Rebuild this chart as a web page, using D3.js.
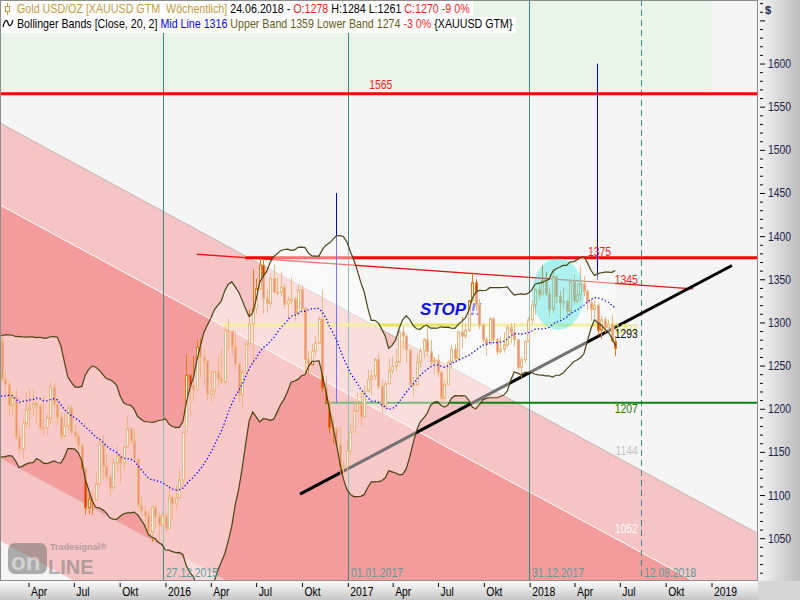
<!DOCTYPE html>
<html><head><meta charset="utf-8">
<script src="https://cdn.jsdelivr.net/npm/d3@7"></script>
<style>
body{margin:0;background:#fff;}
svg{display:block;}
text{font-family:"Liberation Sans Narrow","Arial Narrow","Liberation Sans",Arial,sans-serif;}
</style>
</head><body>
<svg id="c" width="800" height="600"></svg>
<script>
// ---------------- DATA ----------------
const firstWeek = "2014-09-05"; // weekly bars (Friday close)
const opens = [
1287,1268,1231,1216, 1218,1192,1222,1238,1231, 1171,1177,1186,1201, 1167,1191,1222,1195,
1195,1186,1216,1277,1293, 1279,1234,1228,1204, 1213,1167,1153,1183, 1199,1201,1206,1203, 1178,1178,1189,1225,1205, 1190,1168,1180,1201, 1173,1168,1157,1131,1085, 1095,1094,1113,1159, 1134,1121,1108,1137, 1145,1137,1156,1177,1163, 1142,1088,1081,1076, 1057,1086,1075,1065,
1076,1061,1097,1090,1097, 1118,1173,1239,1227, 1222,1271,1259,1255, 1217,1221,1243,1235,1231, 1291,1290,1272,1252, 1216,1243,1275,1298, 1316,1339,1366,1327,1322, 1351,1335,1335,1341, 1321,1326,1327,1310,1338, 1316,1257,1251,1267, 1276,1304,1224,1208, 1178,1177,1159,1134,1133,
1151,1173,1197,1205, 1191,1220,1234,1238, 1257,1226,1203,1229,1244, 1249,1254,1289,1284, 1268,1228,1228,1254, 1267,1280,1266,1254,1256, 1242,1212,1228,1254, 1269,1258,1289,1284, 1291,1325,1346,1320,1297, 1280,1275,1304,1280, 1266,1269,1274,1294, 1288,1280,1248,1257,1278,
1303,1320,1338,1332, 1348,1333,1315,1353, 1330,1323,1324,1313,1347, 1325,1332,1345,1336, 1323,1315,1320,1291, 1303,1294,1298,1278];
const highs = [
1293,1271,1239,1226, 1221,1232,1250,1255,1235, 1180,1192,1208,1207, 1221,1239,1225,1205,
1210,1224,1282,1307,1295, 1284,1245,1233,1219, 1224,1177,1188,1219, 1224,1224,1209,1205, 1215,1194,1232,1229,1214, 1196,1195,1205,1204, 1181,1175,1160,1132,1105, 1104,1126,1168,1170, 1147,1125,1143,1157, 1148,1157,1191,1178,1177, 1143,1097,1088,1082, 1088,1088,1080,1081,
1080,1112,1100,1112,1129, 1174,1263,1240,1261, 1280,1282,1268,1257, 1244,1245,1262,1271,1296, 1304,1290,1290,1253, 1245,1277,1315,1362, 1351,1375,1372,1338,1357, 1367,1352,1358,1345, 1330,1352,1329,1344,1343, 1318,1267,1275,1284, 1307,1338,1238,1214, 1191,1180,1180,1140,1163,
1182,1207,1219,1220, 1226,1245,1245,1259, 1264,1234,1233,1259,1261, 1270,1291,1295,1287, 1268,1237,1263,1271, 1282,1296,1280,1260,1263, 1244,1233,1256,1274, 1275,1290,1306,1299, 1326,1357,1350,1327,1299, 1283,1306,1306,1282, 1284,1289,1297,1299, 1299,1281,1260,1279,1306,
1326,1340,1345,1366, 1358,1341,1362,1354, 1337,1340,1326,1350,1355, 1345,1365,1354,1338, 1327,1326,1322,1308, 1306,1303,1309,1284];
const lows = [
1262,1226,1208,1207, 1190,1190,1220,1225,1161, 1131,1147,1180,1165, 1142,1190,1186,1172,
1167,1183,1214,1276,1250, 1232,1216,1191,1193, 1163,1147,1142,1178, 1178,1192,1183,1175, 1169,1170,1182,1201,1181, 1162,1166,1175,1169, 1162,1149,1130,1077,1078, 1077,1094,1110,1118, 1116,1098,1104,1128, 1114,1129,1155,1159,1140, 1084,1077,1062,1052, 1046,1061,1046,1064,
1057,1060,1071,1083,1096, 1111,1172,1191,1208, 1220,1236,1226,1209, 1207,1211,1224,1229,1228, 1267,1261,1245,1208, 1199,1240,1271,1250, 1310,1338,1310,1311,1316, 1334,1332,1331,1316, 1302,1321,1302,1308,1313, 1241,1241,1250,1261, 1275,1219,1205,1172, 1160,1157,1123,1125,1128,
1146,1172,1196,1180, 1190,1219,1216,1233, 1222,1195,1198,1228,1240, 1243,1253,1270,1253, 1226,1214,1227,1247, 1258,1261,1250,1240,1236, 1205,1204,1227,1247, 1253,1255,1270,1281, 1289,1324,1314,1292,1276, 1261,1274,1276,1262, 1264,1265,1271,1276, 1272,1244,1236,1253,1277,
1298,1309,1326,1331, 1330,1307,1311,1322, 1303,1316,1306,1308,1321, 1322,1325,1330,1315, 1302,1305,1285,1281, 1288,1291,1277,1261];
const closes = [
1268,1231,1216,1218, 1192,1222,1238,1231,1171, 1177,1186,1201,1167, 1191,1222,1195,1195,
1186,1216,1277,1293,1279, 1234,1228,1204,1213, 1167,1153,1183,1199, 1201,1206,1203,1178, 1178,1189,1225,1205,1190, 1168,1180,1201,1173, 1168,1157,1131,1085,1095, 1094,1113,1159,1134, 1121,1108,1137,1145, 1137,1156,1177,1163,1142, 1088,1081,1076,1057, 1086,1075,1065,1076,
1061,1097,1090,1097,1118, 1173,1239,1227,1222, 1271,1259,1255,1217, 1221,1243,1235,1231,1291, 1290,1272,1252,1216, 1243,1275,1298,1316, 1339,1366,1327,1322,1351, 1335,1335,1341,1321, 1326,1327,1310,1338,1316, 1257,1251,1267,1276, 1304,1224,1208,1178, 1177,1159,1134,1133,1151,
1173,1197,1205,1191, 1220,1234,1238,1257, 1226,1203,1229,1244,1249, 1254,1289,1284,1268, 1228,1228,1254,1267, 1280,1266,1254,1256,1242, 1212,1228,1254,1269, 1258,1289,1284,1291, 1325,1346,1320,1297,1280, 1275,1304,1280,1266, 1269,1274,1294,1288, 1280,1248,1257,1278,1303,
1320,1338,1332,1348, 1333,1315,1353,1330, 1323,1324,1313,1347,1325, 1332,1345,1336,1323, 1315,1320,1291,1303, 1294,1298,1279,1270];

const bbPeriod = 20, bbWidth = 2;

// regression channel (two anchor dates, four parallel lines)
const channelDates = ["2015-02-03","2019-04-02"];
const channelTop = [1531,1056];
const channelInnerTop = [1436,961];
const channelInnerBottom = [1143,668];
const channelBottom = [1047,572];

// drawn annotations
const targetLevel = 1565, targetZoneEnd = "2019-01-01";
const level1375 = {from:"2016-06-09", value:1375};
const level1207 = {from:"2016-11-16", value:1207};
const yellowLevel = {from:"2016-04-23", to:"2018-07-15", value:1297};
const redTrendDates = ["2016-03-04","2018-11-25"], redTrendValues = [1379,1339];
const blackTrendDates = ["2016-09-27","2019-02-11"], blackTrendValues = [1101,1366];
const blueMarks = [{date:"2016-12-08", from:1450, to:1207},{date:"2018-05-16", from:1600, to:1349}];
const markerDates = ["2015-12-27","2017-01-01","2017-12-31","2018-08-12"];
const markerLabels = ["27.12.2015","01.01.2017","31.12.2017","12.08.2018"];
const ellipse = {date:"2018-02-27", value:1333, halfDays:52, halfValue:41.7};
const stopText = {date:"2017-05-26", value:1308.6, text:"STOP !!"};
const priceLabels = [
  {t:"1565", date:"2017-02-13", v:1565, dy:-5, anchor:"start", fill:"#ff1a1a"},
  {t:"1375", date:"2018-04-28", v:1375, dy:-2, anchor:"start", fill:"#ff1a1a"},
  {t:"1345", date:"2018-08-12", v:1345, dy:0, anchor:"end", fill:"#ff1a1a"},
  {t:"1293", date:"2018-08-12", v:1293, dy:5, anchor:"end", fill:"#e8e070"},
  {t:"1293", date:"2018-08-12", v:1293, dy:10, anchor:"end", fill:"#111"},
  {t:"1207", date:"2018-08-12", v:1207, dy:10, anchor:"end", fill:"#2a7a00"},
  {t:"1144", date:"2018-08-12", v:1144, dy:-2, anchor:"end", fill:"#c4c4c4"},
  {t:"1052", date:"2018-08-12", v:1052, dy:-3, anchor:"end", fill:"#ffffff"}
];
const priceTicks = d3.range(1010, 1671, 10);
const priceTickLabels = d3.range(1050, 1601, 50);
const monthLabels = {3:"Apr", 6:"Jul", 9:"Okt"};

// ---------------- CHART ----------------
const W = 758, H = 581;
const NARROW = 0.83;
const P = d3.timeParse("%Y-%m-%d");
const svg = d3.select("#c");
const x = d3.scaleTime().domain([new Date(2016,0,1), new Date(2019,0,1)]).range([165.5, 711.5]);
const y = d3.scaleLinear().domain([1000.4, 1673.6]).range([H, 0]);

function squeeze(sel, f){
  sel.each(function(){
    const L = this.getComputedTextLength();
    if (L > 0) d3.select(this).attr("textLength", L*f).attr("lengthAdjust","spacingAndGlyphs");
  });
}

const n = closes.length;
const start = P(firstWeek);
const dates = d3.range(n).map(i => d3.timeDay.offset(start, 7*i));

const defs = svg.append("defs");
defs.append("clipPath").attr("id","plot").append("rect").attr("width",W).attr("height",H);
const gR = defs.append("linearGradient").attr("id","gR").attr("x1",0).attr("x2",1).attr("y1",0).attr("y2",0);
gR.append("stop").attr("offset",0).attr("stop-color","#f6f6f6");
gR.append("stop").attr("offset",1).attr("stop-color","#bcbcbc");
const gB = defs.append("linearGradient").attr("id","gB").attr("x1",0).attr("x2",0).attr("y1",0).attr("y2",1);
gB.append("stop").attr("offset",0).attr("stop-color","#fbfbfb");
gB.append("stop").attr("offset",1).attr("stop-color","#c6c6c6");

svg.append("rect").attr("width",800).attr("height",600).attr("fill","#fff");
svg.append("rect").attr("x",W).attr("y",0).attr("width",800-W).attr("height",H).attr("fill","url(#gR)");
svg.append("rect").attr("x",0).attr("y",H).attr("width",W).attr("height",600-H).attr("fill","url(#gB)");
svg.append("rect").attr("x",W).attr("y",H).attr("width",800-W).attr("height",600-H).attr("fill","#d6d6d6");

const g = svg.append("g").attr("clip-path","url(#plot)");
g.append("rect").attr("width",W).attr("height",H).attr("fill","#f5f5f5");
// target zone
g.append("rect").attr("x",0).attr("y",0).attr("width",x(P(targetZoneEnd))).attr("height",y(targetLevel)).attr("fill","#eaf5ea");

// header background
const hdrBg = svg.append("g");

// channel
const cd = channelDates.map(P);
function band(a,b,fill){
  const pts = [[x(cd[0]),y(a[0])],[x(cd[1]),y(a[1])],[x(cd[1]),y(b[1])],[x(cd[0]),y(b[0])]];
  g.append("path").attr("d","M"+pts.join("L")+"Z").attr("fill",fill);
}
band(channelTop, channelInnerTop, "#f6c4c4");
band(channelInnerTop, channelInnerBottom, "#f49c9c");
band(channelInnerBottom, channelBottom, "#f6c4c4");
function cline(a, stroke){
  g.append("line").attr("x1",x(cd[0])).attr("y1",y(a[0])).attr("x2",x(cd[1])).attr("y2",y(a[1]))
   .attr("stroke",stroke).attr("stroke-width",1);
}
cline(channelTop,"#c2b4b4");
cline(channelInnerTop,"#ffffff");
cline(channelInnerBottom,"#e8b4b4");

// vertical date markers
markerDates.forEach((d,i)=>{
  const xx = Math.round(x(P(d)))+0.5;
  g.append("line").attr("x1",xx).attr("x2",xx).attr("y1",0).attr("y2",H)
   .attr("stroke","#3f8a84").attr("stroke-width",1)
   .attr("stroke-dasharray", i===3 ? "6,4" : null);
});

// horizontal / trend annotations
g.append("line").attr("x1",0).attr("x2",W).attr("y1",y(targetLevel)).attr("y2",y(targetLevel))
 .attr("stroke","#ff0000").attr("stroke-width",3);
g.append("line").attr("x1",x(P(yellowLevel.from))).attr("x2",x(P(yellowLevel.to)))
 .attr("y1",y(yellowLevel.value)).attr("y2",y(yellowLevel.value)).attr("stroke","#e8e455").attr("stroke-width",3);
g.append("line").attr("x1",x(P(redTrendDates[0]))).attr("x2",x(P(redTrendDates[1])))
 .attr("y1",y(redTrendValues[0])).attr("y2",y(redTrendValues[1])).attr("stroke","#f01010").attr("stroke-width",1.3);
g.append("line").attr("x1",x(P(level1375.from))).attr("x2",W)
 .attr("y1",y(level1375.value)).attr("y2",y(level1375.value)).attr("stroke","#ff0000").attr("stroke-width",3);
g.append("line").attr("x1",x(P(level1207.from))).attr("x2",W)
 .attr("y1",y(level1207.value)).attr("y2",y(level1207.value)).attr("stroke","#0a840a").attr("stroke-width",2);
blueMarks.forEach(b=>{
  const xx = Math.round(x(P(b.date)))+0.5;
  g.append("line").attr("x1",xx).attr("x2",xx).attr("y1",y(b.from)).attr("y2",y(b.to))
   .attr("stroke","#0000ff").attr("stroke-width",1);
});
g.append("line").attr("x1",x(P(blackTrendDates[0]))).attr("x2",x(P(blackTrendDates[1])))
 .attr("y1",y(blackTrendValues[0])).attr("y2",y(blackTrendValues[1])).attr("stroke","#000").attr("stroke-width",3);

// STOP text
g.append("text").attr("x",x(P(stopText.date))).attr("y",y(stopText.value))
 .attr("fill","#1212e8").style("font-family","'Liberation Sans',Arial,sans-serif")
 .style("font-size","17px").style("font-weight","bold").style("font-style","italic").text(stopText.text);

// candles
const idx = d3.range(n);
const cx = i => Math.round(x(dates[i]));
const wickC = "#e07c18", downC = "#e8281a";
g.append("g").selectAll("line").data(idx).join("line")
 .attr("x1",i=>cx(i)+0.5).attr("x2",i=>cx(i)+0.5)
 .attr("y1",i=>y(highs[i])).attr("y2",i=>y(lows[i]))
 .attr("stroke",wickC).attr("stroke-width",1);
g.append("g").selectAll("rect").data(idx).join("rect")
 .attr("x",i=>cx(i)-0.5).attr("width",2)
 .attr("y",i=>y(Math.max(opens[i],closes[i])))
 .attr("height",i=>Math.max(1,Math.abs(y(opens[i])-y(closes[i]))))
 .attr("fill",i=>closes[i]>=opens[i] ? "#f5f5f5" : downC)
 .attr("stroke",wickC).attr("stroke-width",1);

// Bollinger bands
const bb = [];
for(let i=bbPeriod-1;i<n;i++){
  const w = closes.slice(i-bbPeriod+1,i+1);
  const m = d3.mean(w);
  const sd = Math.sqrt(d3.mean(w, v=>(v-m)*(v-m)));
  bb.push({d:dates[i], m, u:m+bbWidth*sd, l:m-bbWidth*sd});
}
g.append("path").datum(bb).attr("d", d3.area().x(d=>x(d.d)).y0(d=>y(d.u)).y1(d=>y(d.l)))
 .attr("fill","#ffffff").attr("fill-opacity",0.45);

// ellipse highlight
const ec = P(ellipse.date);
const ecx = x(ec), ecy = y(ellipse.value);
g.append("ellipse").attr("cx",ecx).attr("cy",ecy)
 .attr("rx", x(d3.timeDay.offset(ec, ellipse.halfDays)) - ecx)
 .attr("ry", y(ellipse.value - ellipse.halfValue) - ecy)
 .attr("fill","#00dede").attr("fill-opacity",0.3);

g.append("path").datum(bb).attr("d", d3.line().x(d=>x(d.d)).y(d=>y(d.u))).attr("fill","none").attr("stroke","#4a4412").attr("stroke-width",1.2);
g.append("path").datum(bb).attr("d", d3.line().x(d=>x(d.d)).y(d=>y(d.l))).attr("fill","none").attr("stroke","#4a4412").attr("stroke-width",1.2);
g.append("path").datum(bb).attr("d", d3.line().x(d=>x(d.d)).y(d=>y(d.m))).attr("fill","none").attr("stroke","#0000ff").attr("stroke-width",1.3).attr("stroke-dasharray","1.3,2.2");

// price labels
priceLabels.forEach(p=>{
  const t = g.append("text").attr("x", x(P(p.date)) + (p.anchor==="end" ? -3 : 0)).attr("y", y(p.v)+p.dy)
   .attr("text-anchor",p.anchor).attr("fill",p.fill).style("font-size","12.5px").text(p.t);
  squeeze(t, NARROW);
});

// marker labels
markerDates.forEach((d,i)=>{
  const t = g.append("text").attr("x", Math.round(x(P(d)))+3).attr("y",577).attr("fill","#5a9c9c")
   .style("font-size","12.5px").text(markerLabels[i]);
  squeeze(t, NARROW);
});

// logo watermark
const logo = g.append("g").attr("opacity",0.55);
logo.append("rect").attr("x",8).attr("y",543).attr("width",39).attr("height",31).attr("rx",7).attr("fill","#707070");
logo.append("text").attr("x",11).attr("y",570).attr("fill","#b8b8b8").style("font-family","'Liberation Sans',Arial,sans-serif").style("font-size","24px").style("font-weight","bold").text("on");
logo.append("text").attr("x",48).attr("y",574).attr("fill","#7c7c7c").style("font-family","'Liberation Sans',Arial,sans-serif").style("font-size","20px").style("font-weight","bold").text("LINE");
logo.append("text").attr("x",50).attr("y",550).attr("fill","#7c7c7c").style("font-family","'Liberation Sans',Arial,sans-serif").style("font-size","9px").style("font-weight","bold").text("Tradesignal®");

// plot border
svg.append("rect").attr("x",0.5).attr("y",0.5).attr("width",W-1).attr("height",H-1).attr("fill","none").attr("stroke","#8c8c8c");

// right axis
const ra = svg.append("g").attr("transform",`translate(${W},0)`)
  .call(d3.axisRight(y).tickValues(priceTicks).tickSize(3).tickFormat(v => priceTickLabels.includes(v) ? v : ""));
ra.select(".domain").remove();
ra.selectAll(".tick line").attr("x1",2).attr("x2",v=> v%50===0 ? 7 : 5).attr("stroke","#000");
ra.selectAll(".tick text").attr("x",10).attr("fill","#1e1e50").style("font-size","12.5px").style("font-family",null);
squeeze(ra.selectAll(".tick text"), NARROW);
svg.append("text").attr("x",765).attr("y",14).attr("fill","#1e1e50").style("font-size","11px").style("font-weight","bold").text("$");

// bottom axis
const tv = d3.timeMonth.every(3).range(new Date(2015,3,1), new Date(2019,1,2));
const ba = svg.append("g").attr("transform",`translate(0,${H})`)
  .call(d3.axisBottom(x).tickValues(tv).tickSize(5)
    .tickFormat(d => d.getMonth()===0 ? d.getFullYear() : monthLabels[d.getMonth()]));
ba.select(".domain").remove();
ba.selectAll(".tick line").attr("y1",2).attr("y2",6).attr("stroke","#000");
ba.selectAll(".tick text").attr("text-anchor","start").attr("x",2).attr("y",6).attr("fill","#000")
  .style("font-size","12.5px").style("font-family",null);
squeeze(ba.selectAll(".tick text"), NARROW);

// header (horizontally condensed group to mimic the narrow UI font)
hdrBg.append("rect").attr("x",1).attr("y",1).attr("width",472).attr("height",16).attr("fill","#fff");
hdrBg.append("rect").attr("x",1).attr("y",17).attr("width",515).attr("height",16).attr("fill","#fff");
const hdr = svg.append("g");
const l1g = hdr.append("g").attr("transform","translate(17,0)");
const l1 = l1g.append("text").attr("x",0).attr("y",13).style("font-size","12.5px").style("white-space","pre");
[["Gold USD/OZ [XAUUSD GTM  Wöchentlich] ","#c49a3a"],["24.06.2018 - ","#000"],["O:1278","#ff1a1a"],[" H:1284 L:1261 ","#000"],["C:1270 -9 0%","#ff1a1a"]]
  .forEach(s=>l1.append("tspan").attr("fill",s[1]).text(s[0]));
const l2g = hdr.append("g").attr("transform","translate(17,0)");
const l2 = l2g.append("text").attr("x",0).attr("y",28).style("font-size","12.5px").style("white-space","pre");
[["Bollinger Bands [Close, 20, 2] ","#000"],["Mid Line 1316","#0000ff"],[" Upper Band 1359 Lower Band 1274","#6a5a16"],[" -3 0%","#ff1a1a"],[" {XAUUSD GTM}","#000"]]
  .forEach(s=>l2.append("tspan").attr("fill",s[1]).text(s[0]));
const w1 = l1.node().getComputedTextLength(), w2 = l2.node().getComputedTextLength();
l1g.attr("transform",`translate(17,0) scale(${453/w1},1)`);
l2g.attr("transform",`translate(17,0) scale(${496/w2},1)`);
// icons
hdr.append("line").attr("x1",7.5).attr("x2",7.5).attr("y1",3).attr("y2",15).attr("stroke","#c49a3a");
hdr.append("rect").attr("x",5.5).attr("y",6.5).attr("width",4).attr("height",5).attr("fill","#fff").attr("stroke","#c49a3a");
hdr.append("path").attr("d","M3,27 C5,19 7,19 8,23 C9,27 11,27 13,20").attr("fill","none").attr("stroke","#000").attr("stroke-width",1.2);
</script>
</body></html>
